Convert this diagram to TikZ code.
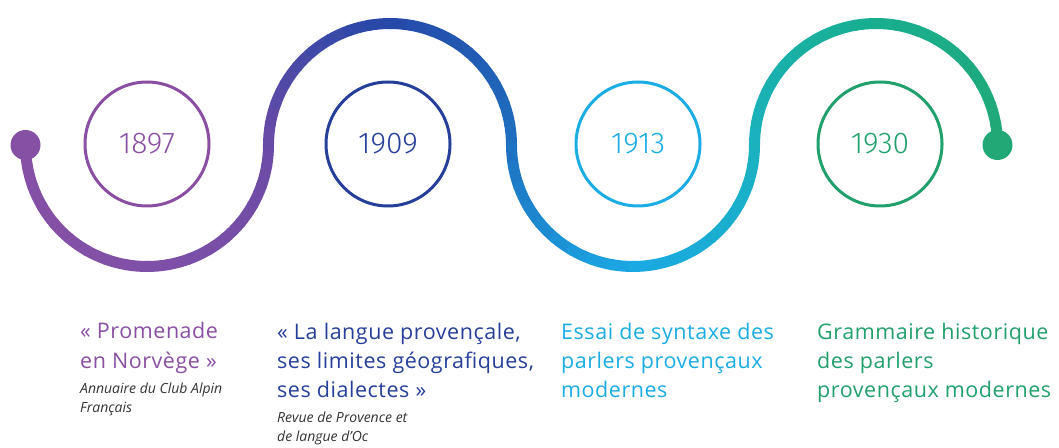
\documentclass[tikz,border=0pt]{standalone}
\usepackage{fontspec}
\usepackage{tikz}
\usetikzlibrary{positioning}
\setmainfont{Open Sans}
\newfontfamily\titrefont[LetterSpace=2.5]{Open Sans}
\newfontfamily\yearfont{Fira Sans Light}
% couleurs de la frise
\definecolor{cviolet}{HTML}{8A4FA2}
\definecolor{cbleu}{HTML}{26409A}
\definecolor{cciel}{HTML}{1BACE4}
\definecolor{cvert}{HTML}{22A06C}
\definecolor{ctexte}{HTML}{333333}
\definecolor{k0}{HTML}{8650A4}
\definecolor{k1}{HTML}{8050A8}
\definecolor{k2}{HTML}{6C4BA6}
\definecolor{k3}{HTML}{2548A8}
\definecolor{k4}{HTML}{1E6FC0}
\definecolor{k5}{HTML}{1AA8E4}
\definecolor{k6}{HTML}{1AB2C0}
\definecolor{k7}{HTML}{18AE90}
\definecolor{k8}{HTML}{22A876}

\begin{document}
\begin{tikzpicture}[x=1pt,y=1pt,line cap=round,line join=round,
  yearcirc/.style={circle,minimum size=124pt,inner sep=0pt,line width=3pt,
    font=\yearfont\fontsize{30}{30}\selectfont},
  dot/.style={circle,minimum size=30pt,inner sep=0pt},
  wave/.style={line width=11pt},
  titre/.style={anchor=base west,align=left,inner sep=0pt,
    font=\titrefont\fontsize{21.5}{29}\selectfont},
  source/.style={anchor=base west,align=left,inner sep=0pt,text=ctexte,
    font=\itshape\fontsize{14}{19}\selectfont}]
\useasboundingbox (0,0) rectangle (1059,447);

% la vague
\foreach \i in {0,...,3}{
  \pgfmathsetmacro\cx{147+243*\i}
  \pgfmathsetmacro\s{ifthenelse(mod(\i,2)==0,1,-1)}
  \foreach \j in {0,...,17}{
    \pgfmathtruncatemacro\h{\j>8 ? 1 : 0}
    \pgfmathtruncatemacro\ka{2*\i+\h}
    \pgfmathtruncatemacro\kb{\ka+1}
    \pgfmathtruncatemacro\pct{100-(mod(\j,9)+0.5)/9*100}
    \pgfmathsetmacro\a{180+\s*10*\j}
    \pgfmathsetmacro\d{\s*10.5}
    \colorlet{segc}{k\ka!\pct!k\kb}
    \draw[wave,draw=segc] (\cx,302) ++(\a:121.5) arc[start angle=\a,delta angle=\d,radius=121.5];
  }
}
\node[dot,fill=k0] (debut) at (25.5,302) {};
\node[dot,fill=k8] (fin) at (997.5,302) {};

% les dates
\node[yearcirc,draw=cviolet,text=cviolet] (a1897) at (147,303) {1897};
\node[yearcirc,draw=cbleu,text=cbleu] (a1909) at (388,303) {1909};
\node[yearcirc,draw=cciel,text=cciel] (a1913) at (638,303) {1913};
\node[yearcirc,draw=cvert,text=cvert] (a1930) at (880,303) {1930};

% les titres (ancrés sur la dernière ligne)
\node[titre,text=cviolet] (t1897) at (80,79) {« Promenade\\en Norvège »};
\node[source] (s1897) at (80,35) {Annuaire du Club Alpin\\Français};
\node[titre,text=cbleu] (t1909) at (277,50) {« La langue provençale,\\ses limites géografiques,\\ses dialectes »};
\node[source] (s1909) at (277,6) {Revue de Provence et\\de langue d’Oc};
\node[titre,text=cciel] (t1913) at (561,50) {Essai de syntaxe des\\parlers provençaux\\modernes};
\node[titre,text=cvert] (t1930) at (817,50) {Grammaire historique\\des parlers\\provençaux modernes};
\end{tikzpicture}
\end{document}
